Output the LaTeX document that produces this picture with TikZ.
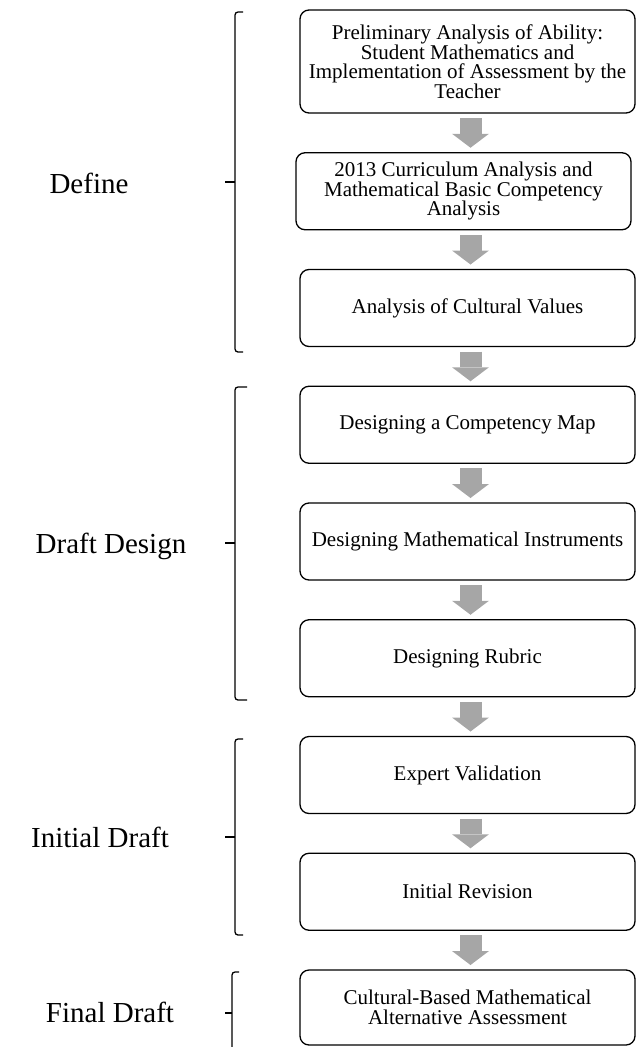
\documentclass[tikz,border=0pt]{standalone}
\usepackage{fontspec}
\setmainfont{Liberation Serif}
\usepackage{xcolor}
\usetikzlibrary{arrows.meta}
\usetikzlibrary{positioning}

\definecolor{flowgray}{HTML}{A6A6A6}

\tikzset{
	stage/.style={draw, line width=1.3pt, rounded corners=9pt, outer sep=0pt,
		minimum width=335pt, minimum height=77pt, align=center, inner sep=4pt,
		font=\fontsize{21pt}{19.5pt}\selectfont},
	flow/.style={line width=22pt, draw=flowgray,
		-{Triangle[width=37pt,length=14pt,line width=0pt]},
		shorten <=5pt, shorten >=5pt},
	phase/.style={line width=1.3pt, rounded corners=3pt},
	phaselabel/.style={font=\fontsize{29pt}{32pt}\selectfont}
}

\begin{document}
\begin{tikzpicture}[x=1pt,y=1pt]
	\useasboundingbox (0,0) rectangle (636,-1047);
	\coordinate (ax) at (470.5,0);

	\node[stage, minimum height=103pt] (prelim) at (467.5,-61.5) {Preliminary Analysis of Ability:\\ Student Mathematics and\\ Implementation of Assessment by the\\ Teacher};
	\node[stage, below=39.75pt of prelim, xshift=-4pt] (curriculum) {2013 Curriculum Analysis and\\ Mathematical Basic Competency\\ Analysis};
	\node[stage, below=39.75pt of curriculum, xshift=4pt] (culture) {Analysis of Cultural Values};
	\node[stage, below=39.75pt of culture] (compmap) {Designing a Competency Map};
	\node[stage, below=39.75pt of compmap] (instr) {Designing Mathematical Instruments};
	\node[stage, below=39.75pt of instr] (rubric) {Designing Rubric};
	\node[stage, below=39.75pt of rubric] (expert) {Expert Validation};
	\node[stage, below=39.75pt of expert] (revision) {Initial Revision};
	\node[stage, below=39.75pt of revision, minimum height=75pt] (final) {Cultural-Based Mathematical\\ Alternative Assessment};

	\draw[flow] (prelim.south -| ax) -- (curriculum.north -| ax);
	\draw[flow] (curriculum.south -| ax) -- (culture.north -| ax);
	\draw[flow] (culture.south -| ax) -- (compmap.north -| ax);
	\draw[flow] (compmap.south -| ax) -- (instr.north -| ax);
	\draw[flow] (instr.south -| ax) -- (rubric.north -| ax);
	\draw[flow] (rubric.south -| ax) -- (expert.north -| ax);
	\draw[flow] (expert.south -| ax) -- (revision.north -| ax);
	\draw[flow] (revision.south -| ax) -- (final.north -| ax);

	\draw[phase] (243,-12) -- (235,-12) -- (235,-352) -- (243,-352);
	\draw[phase] (235,-182) -- (225,-182);
	\node[phaselabel] (define) at (89,-183) {Define};

	\draw[phase] (247,-387) -- (235,-387) -- (235,-700) -- (247,-700);
	\draw[phase] (235,-543) -- (225,-543);
	\node[phaselabel] (design) at (111,-546) {Draft Design};

	\draw[phase] (243,-739) -- (235,-739) -- (235,-935) -- (243,-935);
	\draw[phase] (235,-837) -- (225,-837);
	\node[phaselabel] (initial) at (100,-837) {Initial Draft};

	\draw[phase] (239,-972) -- (232,-972) -- (232,-1052);
	\draw[phase] (232,-1013) -- (225,-1013);
	\node[phaselabel] (finaldraft) at (110,-1012) {Final Draft};
\end{tikzpicture}
\end{document}
